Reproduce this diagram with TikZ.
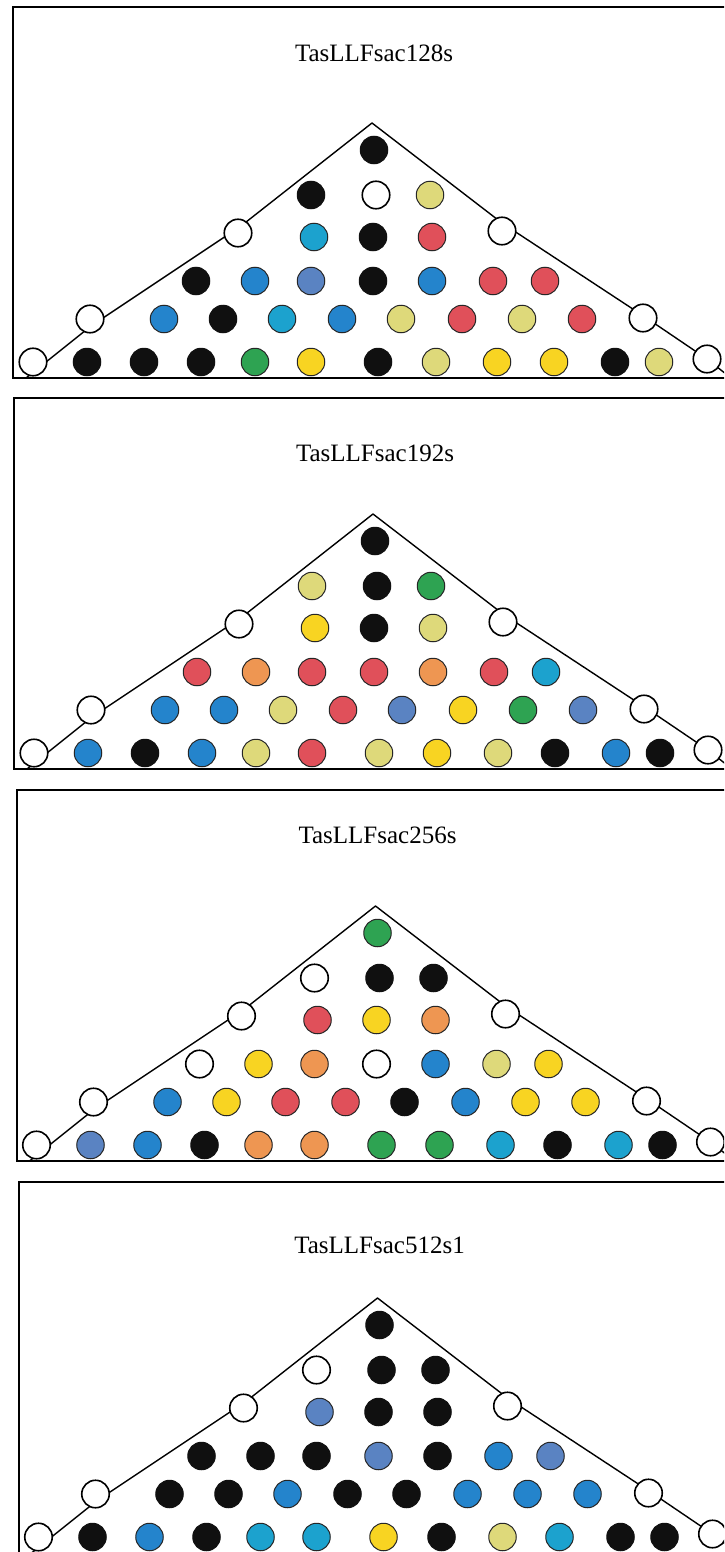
\documentclass[tikz,border=0pt]{standalone}
\usepackage{fontspec}
\setmainfont{Liberation Serif}
\definecolor{colK}{RGB}{16,16,16}
\definecolor{colW}{RGB}{255,255,255}
\definecolor{colY}{RGB}{248,212,34}
\definecolor{colH}{RGB}{222,217,122}
\definecolor{colR}{RGB}{224,80,90}
\definecolor{colO}{RGB}{238,150,82}
\definecolor{colG}{RGB}{46,163,82}
\definecolor{colC}{RGB}{28,162,206}
\definecolor{colB}{RGB}{36,132,204}
\definecolor{colS}{RGB}{90,131,194}
\tikzset{
  dot/.style={circle, minimum size=27.5pt, inner sep=0pt, line width=1pt, draw=black!85},
  cK/.style={fill=colK, draw=colK},
  cW/.style={fill=white, draw=black, line width=1.6pt},
  cY/.style={fill=colY}, cH/.style={fill=colH}, cR/.style={fill=colR},
  cO/.style={fill=colO}, cG/.style={fill=colG}, cC/.style={fill=colC},
  cB/.style={fill=colB}, cS/.style={fill=colS},
  edgedot/.style={circle, minimum size=27.5pt, inner sep=0pt, fill=white, draw=black, line width=1.6pt},
  frame/.style={line width=2pt, line cap=rect},
  tri/.style={line width=1.4pt, line join=round},
  ttl/.style={font=\fontsize{25}{29}\selectfont, inner sep=0pt}
}
% #1 name prefix, #2 y, #3 x array, #4 colour letters
\newcommand\dotrow[4]{%
  \foreach \c [count=\i from 0] in {#4}{%
    \pgfmathsetmacro\xx{{#3}[\i]}%
    \edef\tmpnode{\noexpand\node[dot, c\c] (#1\i) at (\xx,#2) {};}\tmpnode
  }}
% #1 id, #2 title, #3 title y, #4..#9 rows 1..6
\newcommand\drawpanel[9]{%
  \node[ttl] (#1title) at (374,#3) {#2};
  \coordinate (#1tl) at (13,7);
  \coordinate (#1tr) at (760,7);
  \coordinate (#1bl) at (13,378);
  \coordinate (#1br) at (760,378);
  \draw[frame] (#1tr) -- (#1tl) -- (#1bl) -- (#1br);
  \coordinate (#1cl) at (26,378);
  \coordinate (#1b1) at (91,326);
  \coordinate (#1b2) at (241,226);
  \coordinate (#1apex) at (372,123);
  \coordinate (#1b3) at (502,223);
  \coordinate (#1b4) at (645,317);
  \coordinate (#1b5) at (707,359);
  \coordinate (#1cr) at (731,378);
  \draw[tri] (#1cl) -- (#1b1) -- (#1b2) -- (#1apex) -- (#1b3) -- (#1b4) -- (#1b5) -- (#1cr);
  \node[edgedot] (#1e3l) at (238,233) {};
  \node[edgedot] (#1e3r) at (502,231) {};
  \node[edgedot] (#1e5l) at (90,319) {};
  \node[edgedot] (#1e5r) at (643,318) {};
  \node[edgedot] (#1e6l) at (33,362) {};
  \node[edgedot] (#1e6r) at (707,359) {};
  \dotrow{#1ra}{150}{374,374}{#4}
  \dotrow{#1rb}{195}{311,376,430}{#5}
  \dotrow{#1rc}{237}{314,373,432}{#6}
  \dotrow{#1rd}{281}{196,255,311,373,432,493,545}{#7}
  \dotrow{#1re}{319}{164,223,282,342,401,462,522,582}{#8}
  \dotrow{#1rf}{362}{87,144,201,255,311,378,436,497,554,615,659}{#9}
}
\begin{document}
\begin{tikzpicture}[x=1pt,y=-1pt]
\useasboundingbox (0,0) rectangle (724,1552);
\clip (0,0) rectangle (724,1552);
\fill[white] (0,0) rectangle (724,1552);
\begin{scope}
\drawpanel{pa}{TasLLFsac128s}{53}
  {K}{K,W,H}{C,K,R}{K,B,S,K,B,R,R}{B,K,C,B,H,R,H,R}{K,K,K,G,Y,K,H,Y,Y,K,H}
\end{scope}
\begin{scope}[shift={(1,391)}]
\drawpanel{pb}{TasLLFsac192s}{62}
  {K}{H,K,G}{Y,K,H}{R,O,R,R,O,R,C}{B,B,H,R,S,Y,G,S}{B,K,B,H,R,H,Y,H,K,B,K}
\end{scope}
\begin{scope}[shift={(3.5,783)}]
\drawpanel{pc}{TasLLFsac256s}{52}
  {G}{W,K,K}{R,Y,O}{W,Y,O,W,B,H,Y}{B,Y,R,R,K,B,Y,Y}{S,B,K,O,O,G,G,C,K,C,K}
\end{scope}
\begin{scope}[shift={(5.5,1175)}]
\drawpanel{pd}{TasLLFsac512s1}{70}
  {K}{W,K,K}{S,K,K}{K,K,K,S,K,B,S}{K,K,B,K,K,B,B,B}{K,B,K,C,C,Y,K,H,C,K,K}
\end{scope}
\end{tikzpicture}
\end{document}
